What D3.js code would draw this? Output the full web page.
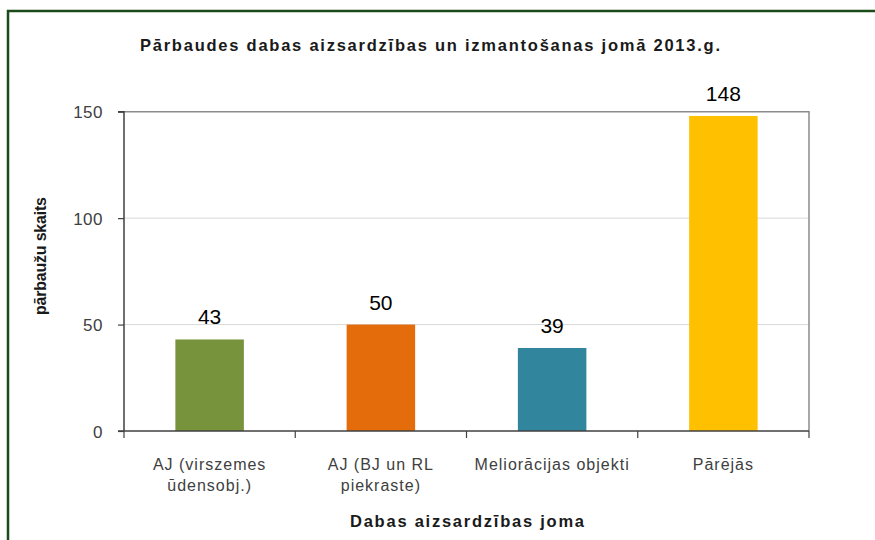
<!DOCTYPE html>
<html><head><meta charset="utf-8">
<script src="https://cdn.jsdelivr.net/npm/d3@7"></script>
<style>body{margin:0;background:#fff}svg{display:block;font-family:"Liberation Sans",Arial,sans-serif}</style>
</head><body>
<svg id="c" width="875" height="540"></svg>
<script>
const categories = [["AJ (virszemes","ūdensobj.)"],["AJ (BJ un RL","piekraste)"],["Meliorācijas objekti"],["Pārējās"]];
const values = [43, 50, 39, 148];
const colors = ["#77933c","#e46c0a","#31859c","#ffc000"];
const yTicks = [0, 50, 100, 150];
const title = "Pārbaudes dabas aizsardzības un izmantošanas jomā 2013.g.";
const yTitle = "pārbaužu skaits";
const xTitle = "Dabas aizsardzības joma";

const svg = d3.select("#c");
const L = 124, R = 809, T = 111.7, B = 431;
const keys = categories.map((c,i)=>i);
const x = d3.scaleBand().domain(keys).range([L,R]).paddingInner(0.6).paddingOuter(0.3);
const xs = d3.scaleBand().domain(keys).range([L,R]);
const y = d3.scaleLinear().domain([0,150]).range([B,T]);

// outer border
svg.append("path").attr("d","M8,540 V11 H875").attr("fill","none").attr("stroke","#1b4a1b").attr("stroke-width",2.5);

// grid
svg.append("g").selectAll("line").data(yTicks.filter(d=>d>0&&d<150)).join("line")
  .attr("x1",L).attr("x2",R).attr("y1",d=>y(d)).attr("y2",d=>y(d))
  .attr("stroke","#d9d9d9").attr("stroke-width",1);
// top/right border
svg.append("path").attr("d",`M${L},${y(150)} H${R} V${B}`).attr("fill","none").attr("stroke","#8c8c8c").attr("stroke-width",1.5);

// bars
svg.append("g").selectAll("rect").data(values).join("rect")
  .attr("x",(d,i)=>x(i)).attr("width",x.bandwidth())
  .attr("y",d=>y(d)).attr("height",d=>B-y(d)).attr("fill",(d,i)=>colors[i]);

// value labels
svg.append("g").selectAll("text").data(values).join("text")
  .attr("x",(d,i)=>x(i)+x.bandwidth()/2).attr("y",d=>y(d)-15)
  .attr("text-anchor","middle").attr("font-size",21).attr("fill","#000").text(d=>d);

// y axis
const ya = svg.append("g").attr("transform",`translate(${L},0)`)
  .call(d3.axisLeft(y).tickValues(yTicks).tickSize(6).tickPadding(15));
ya.select(".domain").attr("stroke","#404040").attr("stroke-width",1.5).attr("d",`M-6,${y(150)}H0V${B}`);
ya.selectAll(".tick line").attr("stroke","#404040").attr("stroke-width",1.2);
ya.selectAll(".tick text").attr("font-size",17).attr("fill","#404040").attr("letter-spacing","0.5px")
  .attr("font-family","Liberation Sans, Arial, sans-serif").attr("dy","0.36em");

// x axis
const edges = keys.map(k=>xs(k)).concat([R]);
const xa = svg.append("g").attr("transform",`translate(0,${B})`);
xa.append("line").attr("x1",L-6).attr("x2",R).attr("stroke","#404040").attr("stroke-width",1.5);
xa.selectAll("line.t").data(edges).join("line").attr("class","t")
  .attr("x1",d=>d).attr("x2",d=>d).attr("y1",0).attr("y2",7).attr("stroke","#404040").attr("stroke-width",1.2);
const xl = xa.selectAll("text").data(categories).join("text")
  .attr("text-anchor","middle").attr("font-size",16).attr("fill","#404040").attr("letter-spacing","1px")
  .attr("transform",(d,i)=>`translate(${xs(i)+xs.bandwidth()/2},0)`);
xl.selectAll("tspan").data(d=>d).join("tspan").attr("x",0).attr("y",(d,j)=>39+j*21).text(d=>d);

// titles
svg.append("text").attr("x",430).attr("y",51).attr("text-anchor","middle").attr("font-size",16.5)
  .attr("font-weight","bold").attr("fill","#1a1a1a").attr("textLength",580).attr("lengthAdjust","spacing").text(title);
svg.append("text").attr("transform","translate(46,256) rotate(-90)").attr("text-anchor","middle")
  .attr("font-size",16).attr("font-weight","bold").attr("fill","#1a1a1a").attr("textLength",118).attr("lengthAdjust","spacing").text(yTitle);
svg.append("text").attr("x",467).attr("y",527).attr("text-anchor","middle").attr("font-size",16.5)
  .attr("font-weight","bold").attr("fill","#1a1a1a").attr("textLength",234).attr("lengthAdjust","spacing").text(xTitle);
</script>
</body></html>
